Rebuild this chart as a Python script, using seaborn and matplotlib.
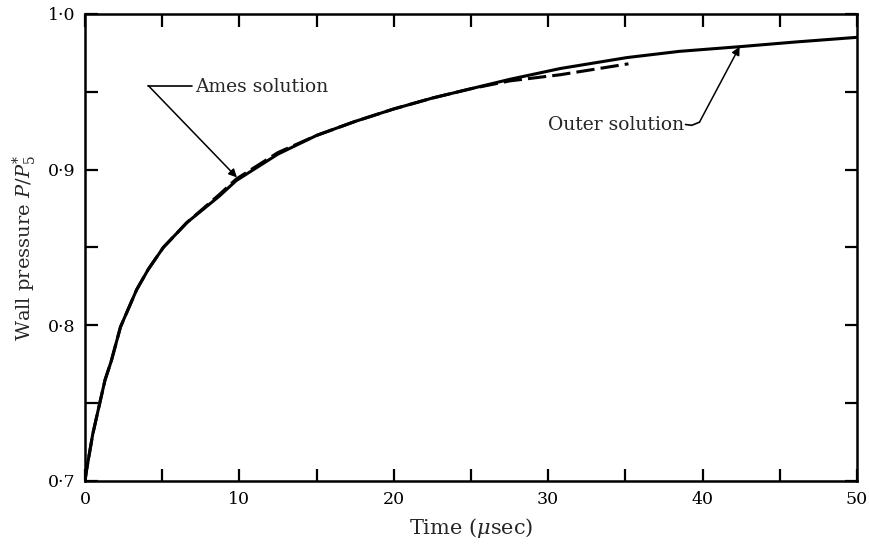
import numpy as np
import pandas as pd
import seaborn as sns
import matplotlib.pyplot as plt
from matplotlib.ticker import MultipleLocator, FuncFormatter

# Outer solution (solid)
outer_t = [0, 0.1, 0.5, 1.0, 1.3, 1.7, 2.3, 3.35, 4.1, 5.07, 6.6, 8.7, 9.8,
           12.5, 15, 17.5, 20, 22.5, 25, 27.5, 30.8, 35.1, 38.5, 42.4, 46, 50]
outer_p = [0.700, 0.707, 0.730, 0.752, 0.765, 0.777, 0.799, 0.823, 0.836, 0.850, 0.866, 0.883, 0.893,
           0.910, 0.922, 0.931, 0.939, 0.946, 0.952, 0.958, 0.965, 0.972, 0.976, 0.979, 0.982, 0.985]

# Ames solution (dashed)
ames_t = [0, 0.1, 0.5, 1.0, 1.3, 1.7, 2.3, 3.35, 4.1, 5.07, 6.6, 8.7, 9.8,
          12.5, 15, 17.5, 20, 22.5, 25, 27.5, 30.8, 35.2]
ames_p = [0.700, 0.707, 0.730, 0.752, 0.765, 0.777, 0.799, 0.823, 0.836, 0.850, 0.866, 0.884, 0.894,
          0.911, 0.922, 0.931, 0.939, 0.946, 0.952, 0.957, 0.961, 0.968]

outer = pd.DataFrame({"t": outer_t, "p": outer_p})
ames = pd.DataFrame({"t": ames_t, "p": ames_p})

sns.set_theme(style="ticks")
plt.rcParams['font.family'] = ['DejaVu Serif']
plt.rcParams['mathtext.fontset'] = 'dejavuserif'

fig = plt.figure(figsize=(8.7, 5.53), dpi=100)
ax = fig.add_axes([0.0977, 0.1302, 0.8873, 0.8445])

sns.lineplot(data=outer, x="t", y="p", ax=ax, color="black", linewidth=2.2)
sns.lineplot(data=ames, x="t", y="p", ax=ax, color="black", linewidth=2.2,
             linestyle=(0, (6, 2)))

ax.set_xlim(0, 50)
ax.set_ylim(0.7, 1.0)

ax.xaxis.set_major_locator(MultipleLocator(10))
ax.xaxis.set_minor_locator(MultipleLocator(5))
ax.yaxis.set_major_locator(MultipleLocator(0.1))
ax.yaxis.set_minor_locator(MultipleLocator(0.05))
ax.yaxis.set_major_formatter(FuncFormatter(lambda v, pos: f"{v:.1f}".replace('.', '\u00b7')))
ax.xaxis.set_major_formatter(FuncFormatter(lambda v, pos: f"{v:.0f}"))

ax.tick_params(which="both", direction="in", top=True, right=True,
               length=9, width=1.6, labelsize=12.5, colors="black", pad=7)
for s in ax.spines.values():
    s.set_linewidth(1.8)
    s.set_color("black")

ax.set_xlabel("Time ($\\mu$sec)", fontsize=15, labelpad=6)
ax.set_ylabel("Wall pressure $P/P_5^{*}$", fontsize=14, labelpad=6)

# Ames solution label
ax.text(7.1, 0.953, "Ames solution", fontsize=13.5, va="center", ha="left")
ax.plot([4.1, 6.9], [0.954, 0.954], color="black", linewidth=1.2)
ax.annotate("", xy=(9.84, 0.895), xytext=(4.1, 0.954),
            arrowprops=dict(arrowstyle="-|>", color="black", lw=1.1,
                            mutation_scale=12, shrinkA=0, shrinkB=0))

# Outer solution label
ax.text(38.8, 0.929, "Outer solution", fontsize=13.5, va="center", ha="right")
ax.plot([38.9, 39.3, 39.8], [0.929, 0.9285, 0.9305], color="black", linewidth=1.2)
ax.annotate("", xy=(42.4, 0.979), xytext=(39.8, 0.9305),
            arrowprops=dict(arrowstyle="-|>", color="black", lw=1.1,
                            mutation_scale=12, shrinkA=0, shrinkB=0))

fig.savefig("out.png", dpi=100)
